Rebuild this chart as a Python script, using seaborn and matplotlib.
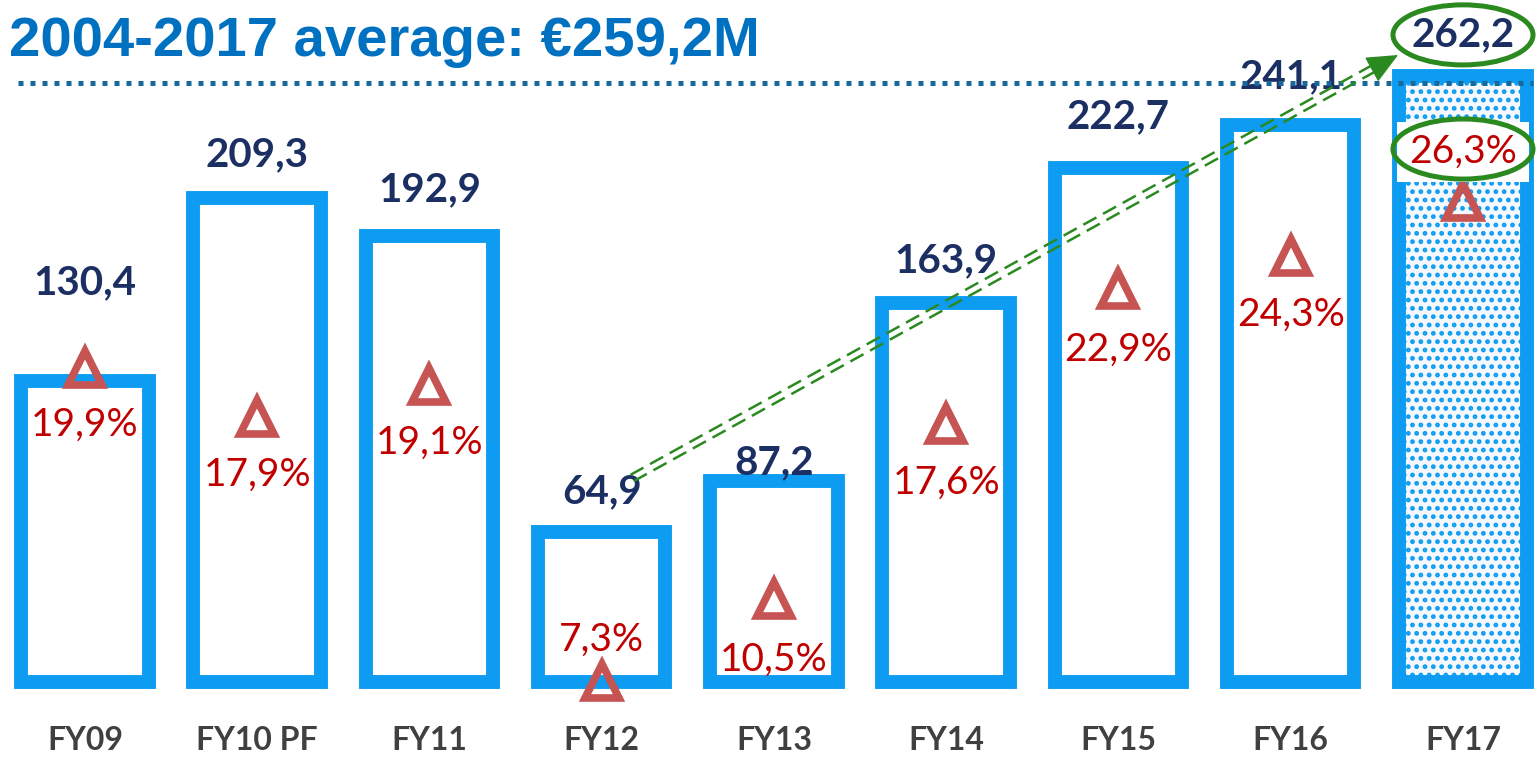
import matplotlib

matplotlib.use("Agg")

import matplotlib.pyplot as plt
from matplotlib.patches import Ellipse
from matplotlib.transforms import ScaledTranslation
import seaborn as sns

# chart data
CATEGORIES = ["FY09", "FY10 PF", "FY11", "FY12", "FY13", "FY14", "FY15", "FY16", "FY17"]
VALUES = [130.4, 209.3, 192.9, 64.9, 87.2, 163.9, 222.7, 241.1, 262.2]
VALUE_LABELS = ["130,4", "209,3", "192,9", "64,9", "87,2", "163,9", "222,7", "241,1", "262,2"]
GROWTH_LABELS = ["19,9%", "17,9%", "19,1%", "7,3%", "10,5%", "17,6%", "22,9%", "24,3%", "26,3%"]
AVERAGE = 259.2
TITLE = "2004-2017 average: €259,2M"

# annotation layout (y in value units)
VALUE_LABEL_Y = [172.7, 228.1, 213.0, 82.3, 94.8, 182.3, 244.6, 261.9, 280.1]
DELTA_Y = [136.0, 114.8, 128.6, 0.5, 36.0, 111.5, 170.0, 184.2, 208.2]
GROWTH_Y = [111.3, 89.6, 103.5, 18.2, 9.5, 86.1, 143.7, 158.9, 229.4]

BLUE = "#0D9CF2"
NAVY = "#1B2F63"
RED_TXT = "#C00000"
RED_TRI = "#C55453"
GREEN = "#2A8A1F"
TITLE_BLUE = "#0070C0"
LINE_BLUE = "#17699B"
GREY = "#404040"

sns.set_theme(style="white")
plt.rcParams["font.family"] = ["Lato", "DejaVu Sans"]
plt.rcParams["hatch.linewidth"] = 2.2

fig = plt.figure(figsize=(15.4, 7.62), dpi=100)
ax = fig.add_axes([0, 0, 1, 1])

sns.barplot(x=CATEGORIES, y=VALUES, order=CATEGORIES, color=BLUE, width=0.74, ax=ax)
for i, bar in enumerate(ax.patches):
    bar.set_facecolor("white")
    bar.set_edgecolor(BLUE)
    bar.set_linewidth(10)
    bar.set_joinstyle("miter")
    if i == len(CATEGORIES) - 1:
        bar.set_facecolor("#F5F9FE")
        bar.set_hatch("..")

ax.set_xlim(-0.493, 8.447)
ax.set_ylim(-34.6, 295.2)
ax.axis("off")

# delta triangles
tri = ax.plot(range(len(CATEGORIES)), DELTA_Y, linestyle="none", marker="^",
              markersize=24, markerfacecolor="none", markeredgecolor=RED_TRI,
              markeredgewidth=5.5, zorder=3)[0]
tri.set_solid_joinstyle("round")

for i, cat in enumerate(CATEGORIES):
    ax.text(i, VALUE_LABEL_Y[i], VALUE_LABELS[i], ha="center", va="center",
            fontsize=29, fontweight="bold", color=NAVY, zorder=3)
    bbox = None
    if i == len(CATEGORIES) - 1:
        bbox = dict(facecolor="white", edgecolor="none", pad=9)
    ax.text(i, GROWTH_Y[i], GROWTH_LABELS[i], ha="center", va="center",
            fontsize=28, color=RED_TXT, bbox=bbox, zorder=3)
    ax.text(i, -25.1, cat, ha="center", va="center", fontsize=23,
            fontweight="bold", color=GREY)

# average line
ax.axhline(AVERAGE, xmin=0.0117, xmax=0.9955, color=LINE_BLUE, lw=3.6,
           linestyle=(0, (1, 1.4)), dash_capstyle="butt", zorder=4)

fig.text(9 / 1540, 1 - 42 / 762, TITLE, ha="left", va="center", fontsize=40.5,
         fontweight="bold", color=TITLE_BLUE, family="Liberation Sans")

# green double dashed arrow from FY12 to FY17
x0, y0 = 3.176, 88.3
xb, yb = 7.496, 266.2
xt, yt = 7.623, 271.4
for s in (1, -1):
    off = ScaledTranslation(s * -0.017, s * 0.031, fig.dpi_scale_trans)
    ax.plot([x0, xb], [y0, yb], color=GREEN, lw=1.8, linestyle=(0, (6, 3)),
            dash_capstyle="butt", transform=ax.transData + off, zorder=5)
ax.annotate("", xy=(xt, yt), xytext=(xb, yb),
            arrowprops=dict(arrowstyle="-|>,head_length=1.0,head_width=0.45",
                            color=GREEN, lw=1, mutation_scale=20,
                            shrinkA=0, shrinkB=0), zorder=5)

# highlight ellipses
for yc in (280.1, 230.7):
    ax.add_patch(Ellipse((8, yc), 0.813, 26, facecolor="none", edgecolor=GREEN,
                         lw=3.6, zorder=6))

fig.savefig("out.png", dpi=100)
